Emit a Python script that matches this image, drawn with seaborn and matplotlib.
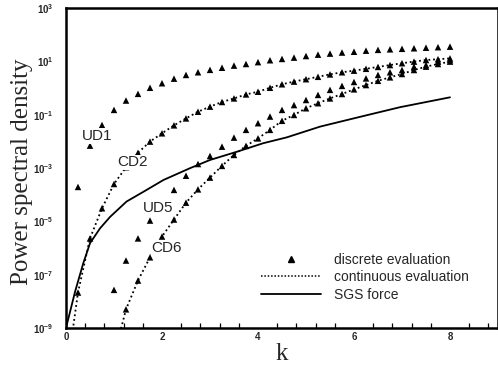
import numpy as np
import pandas as pd
import matplotlib
matplotlib.use("Agg")
import matplotlib.pyplot as plt
from matplotlib.lines import Line2D
from matplotlib.ticker import FixedLocator, FixedFormatter, MultipleLocator, NullLocator
import seaborn as sns

# ---- data -------------------------------------------------------------
k_full = [0.25, 0.5, 0.75, 1.0, 1.25, 1.5, 1.75, 2.0, 2.25, 2.5, 2.75, 3.0,
          3.25, 3.5, 3.75, 4.0, 4.25, 4.5, 4.75, 5.0, 5.25, 5.5, 5.75, 6.0,
          6.25, 6.5, 6.75, 7.0, 7.25, 7.5, 7.75, 8.0]

ud1 = [1.95e-4, 6.9e-3, 0.041, 0.151, 0.339, 0.603, 1.02, 1.51, 2.24, 3.09,
       3.89, 4.79, 5.75, 6.92, 7.94, 9.33, 11.0, 12.3, 13.8, 15.8, 17.8, 19.5,
       21.4, 22.9, 25.1, 26.9, 28.2, 29.5, 30.9, 32.4, 33.9, 35.5]

cd2 = [2.14e-8, 2.29e-6, 3.09e-5, 2.51e-4, 1.07e-3, 3.72e-3, 9.77e-3, 0.0200,
       0.0398, 0.0724, 0.129, 0.200, 0.299, 0.407, 0.575, 0.724, 1.02, 1.38,
       1.74, 2.14, 2.63, 3.24, 3.89, 4.47, 5.25, 6.17, 7.24, 8.51, 9.77, 11.2,
       12.0, 12.9]

k_ud5 = k_full[3:]
ud5 = [2.69e-8, 3.39e-7, 2.29e-6, 1.07e-5, 4.27e-5, 1.51e-4, 5.13e-4, 1.41e-3,
       2.82e-3, 6.31e-3, 0.0138, 0.0269, 0.0479, 0.0851, 0.151, 0.229, 0.355,
       0.550, 0.851, 1.20, 1.68, 2.29, 3.09, 3.89, 4.73, 6.31, 7.24, 9.77, 11.2]

k_cd6 = k_full[4:]
cd6 = [5.01e-9, 6.03e-8, 4.47e-7, 2.69e-6, 1.17e-5, 5.01e-5, 1.58e-4, 4.37e-4,
       1.20e-3, 3.09e-3, 6.76e-3, 0.0129, 0.0269, 0.0589, 0.0977, 0.174, 0.269,
       0.407, 0.596, 0.891, 1.29, 1.86, 2.51, 3.35, 4.73, 6.31, 7.94, 9.77]

# continuous evaluation (dotted) – runs a little below the lowest sample
cd2_cont_k = [0.1] + k_full
cd2_cont = [2.5e-10] + cd2
cd6_cont_k = [1.0] + k_cd6
cd6_cont = [9.0e-11] + cd6

# SGS force
sgs_k = [0.0, 0.19, 0.36, 0.5, 0.71, 0.92, 1.26, 1.68, 2.03, 2.58, 3.0, 3.56,
         4.11, 4.6, 5.29, 6.13, 6.96, 8.0]
sgs = [1e-9, 2.34e-8, 2.69e-7, 1.51e-6, 5.5e-6, 1.48e-5, 5.5e-5, 1.51e-4,
       3.55e-4, 9.77e-4, 2.0e-3, 4.07e-3, 8.51e-3, 0.0141, 0.0355, 0.0832,
       0.191, 0.447]

y_ticks = [1e-9, 1e-7, 1e-5, 1e-3, 1e-1, 1e1, 1e3]
y_ticklabels = [r"$\mathbf{10^{-9}}$", r"$\mathbf{10^{-7}}$", r"$\mathbf{10^{-5}}$",
                r"$\mathbf{10^{-3}}$", r"$\mathbf{10^{-1}}$", r"$\mathbf{10^{1}}$",
                r"$\mathbf{10^{3}}$"]
x_ticks = [0, 2, 4, 6, 8]

scheme_labels = ["UD1", "CD2", "UD5", "CD6"]
scheme_label_pos = [(0.65, 10 ** -1.8), (1.375, 10 ** -2.79),
                    (1.92, 10 ** -4.5), (2.1, 10 ** -6.0)]

# ---- figure -------------------------------------------------------------
sns.set_style("white")
plt.rcParams["font.family"] = ["Liberation Sans", "DejaVu Sans"]
plt.rcParams["mathtext.fontset"] = "custom"
plt.rcParams["mathtext.rm"] = "Liberation Sans"
plt.rcParams["mathtext.bf"] = "Liberation Sans:bold"

fig = plt.figure(figsize=(4.98, 3.69), dpi=100)
ax = fig.add_axes([66 / 498, 41 / 369, 432 / 498, 320 / 369])
ax.set_yscale("log")

discrete = pd.concat([
    pd.DataFrame({"k": k_full, "psd": ud1}),
    pd.DataFrame({"k": k_full, "psd": cd2}),
    pd.DataFrame({"k": k_ud5, "psd": ud5}),
    pd.DataFrame({"k": k_cd6, "psd": cd6}),
], ignore_index=True)

for kk, vv in [(cd2_cont_k, cd2_cont), (cd6_cont_k, cd6_cont)]:
    sns.lineplot(x=kk, y=vv, ax=ax, color="black", linestyle=(0, (1, 1.6)),
                 linewidth=1.3, estimator=None, sort=False)

sns.lineplot(x=sgs_k, y=sgs, ax=ax, color="black", linewidth=1.3,
             estimator=None, sort=False)

sns.scatterplot(data=discrete, x="k", y="psd", ax=ax, marker="^",
                color="black", s=22, edgecolor="none", legend=False, zorder=3)

for text, (xx, yy) in zip(scheme_labels, scheme_label_pos):
    ax.text(xx, yy, text, fontsize=11, ha="center", va="center", zorder=5,
            bbox=dict(facecolor="white", edgecolor="none", pad=0.6))

ax.set_xlim(0, 9)
ax.set_ylim(1e-9, 1e3)
ax.set_xlabel("")
ax.set_ylabel("")

ax.xaxis.set_major_locator(FixedLocator(x_ticks))
ax.xaxis.set_minor_locator(MultipleLocator(0.4))
ax.set_xticklabels([str(t) for t in x_ticks])
ax.yaxis.set_major_locator(FixedLocator(y_ticks))
ax.yaxis.set_major_formatter(FixedFormatter(y_ticklabels))
ax.yaxis.set_minor_locator(NullLocator())

ax.tick_params(axis="both", which="major", direction="in", length=7,
               width=1.3, labelsize=7, color="black")
ax.tick_params(axis="x", which="major", pad=3)
ax.tick_params(axis="y", which="major", pad=9)
ax.tick_params(axis="x", which="minor", direction="in", length=3.5,
               width=0.9, bottom=True, color="black")
for lab in ax.get_xticklabels():
    lab.set_fontweight("bold")

for side in ["left", "bottom", "top", "right"]:
    ax.spines[side].set_visible(True)
    ax.spines[side].set_color("black")
    ax.spines[side].set_linewidth(1.8)

fig.text(22 / 498, 1 - 172 / 369, "Power spectral density", rotation=90,
         ha="center", va="center", fontsize=18, family="Liberation Serif")
fig.text(282 / 498, 1 - 354 / 369, "k", ha="center", va="center",
         fontsize=18, family="Liberation Serif")

handles = [
    Line2D([], [], color="black", marker="^", linestyle="none", markersize=4.5),
    Line2D([], [], color="black", linestyle=(0, (1, 1.2)), linewidth=1.1),
    Line2D([], [], color="black", linestyle="-", linewidth=1.3),
]
ax.legend(handles, ["discrete evaluation", "continuous evaluation", "SGS force"],
          loc="center left", bbox_to_anchor=(0.451, 0.159), frameon=False,
          fontsize=10, handlelength=4.3, handletextpad=1.0, labelspacing=0.25,
          borderpad=0, borderaxespad=0)

fig.savefig("out.png", dpi=100)
